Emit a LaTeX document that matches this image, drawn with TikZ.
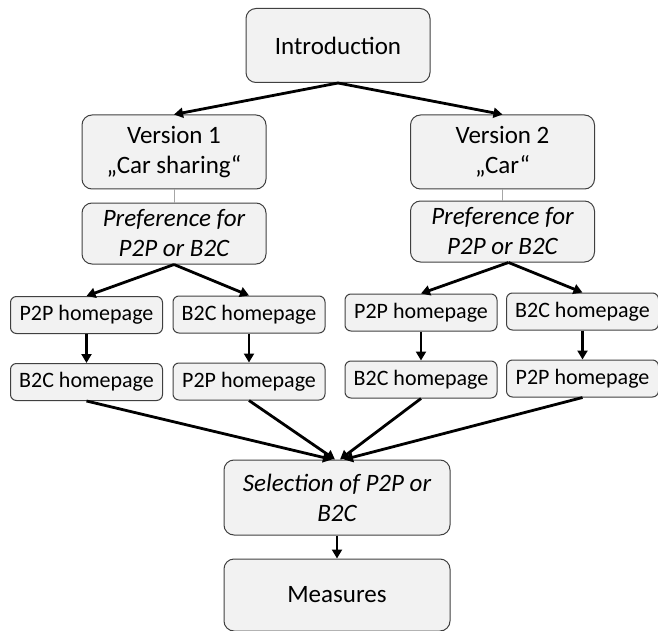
\documentclass[tikz,border=0pt]{standalone}
\usepackage{fontspec}
\setmainfont{Carlito}
\usetikzlibrary{positioning,arrows.meta}
\definecolor{boxfill}{HTML}{F2F2F2}
\definecolor{boxline}{HTML}{404040}
\tikzset{
  box/.style={draw=boxline, fill=boxfill, rounded corners=10pt, line width=1pt,
    align=center, inner sep=2pt, text=black, font=\fontsize{25}{30}\selectfont},
  bigbox/.style={box, minimum width=184pt, minimum height=74pt},
  prefbox/.style={box, minimum width=184pt, minimum height=61pt,
    font=\fontsize{25}{30}\selectfont\itshape},
  pagebox/.style={box, rounded corners=6pt, minimum width=152pt, minimum height=37pt,
    font=\fontsize{22}{26}\selectfont},
  flow/.style={-{Triangle[length=9pt,width=10pt]}, line width=2.8pt},
  link/.style={draw=gray!70, line width=0.8pt},
}
\begin{document}
\begin{tikzpicture}[x=1pt, y=-1pt]
  \useasboundingbox (0,0) rectangle (658,631);

  % Define nodes
  \node[bigbox] (intro) at (338,45.5) {Introduction};
  \node[bigbox] (v1) at (174,152) {Version 1\\„Car sharing“};
  \node[bigbox] (v2) at (502.5,152) {Version 2\\„Car“};
  \node[prefbox, below=13pt of v1] (p1) {Preference for\\P2P or B2C};
  \node[prefbox, below=11pt of v2] (p2) {Preference for\\P2P or B2C};

  \node[pagebox] (a1) at (86.5,315) {P2P homepage};
  \node[pagebox] (a2) at (249,314.5) {B2C homepage};
  \node[pagebox] (a3) at (421,312.5) {P2P homepage};
  \node[pagebox] (a4) at (582.5,311.5) {B2C homepage};
  \node[pagebox, below=29pt of a1] (b1) {B2C homepage};
  \node[pagebox, below=29pt of a2] (b2) {P2P homepage};
  \node[pagebox, below=29pt of a3] (b3) {B2C homepage};
  \node[pagebox, below=29pt of a4] (b4) {P2P homepage};

  \node[box, minimum width=226pt, minimum height=75pt,
        font=\fontsize{25}{30}\selectfont\itshape] (sel) at (337,497.5) {Selection of P2P or\\B2C};
  \node[bigbox, minimum width=226pt, minimum height=72pt, below=23pt of sel] (meas) {Measures};

  % Connect the nodes
  \draw[flow] (intro.south) -- (v1.north);
  \draw[flow] (intro.south) -- (v2.north);
  \draw[link] (v1) -- (p1);
  \draw[link] (v2) -- (p2);
  \draw[flow] (p1.south) -- (a1.north);
  \draw[flow] (p1.south) -- (a2.north);
  \draw[flow] ([xshift=6pt]p2.south) -- (a3.north);
  \draw[flow] ([xshift=6pt]p2.south) -- (a4.north);
  \foreach \i in {1,...,4}
    \draw[flow] (a\i) -- (b\i);
  \draw[flow] (b1.south) -- ([xshift=-5pt]sel.north);
  \draw[flow] (b2.south) -- ([xshift=-2pt]sel.north);
  \draw[flow] (b3.south) -- ([xshift=3pt]sel.north);
  \draw[flow] (b4.south) -- ([xshift=7pt]sel.north);
  \draw[flow] (sel) -- (meas);
\end{tikzpicture}
\end{document}
